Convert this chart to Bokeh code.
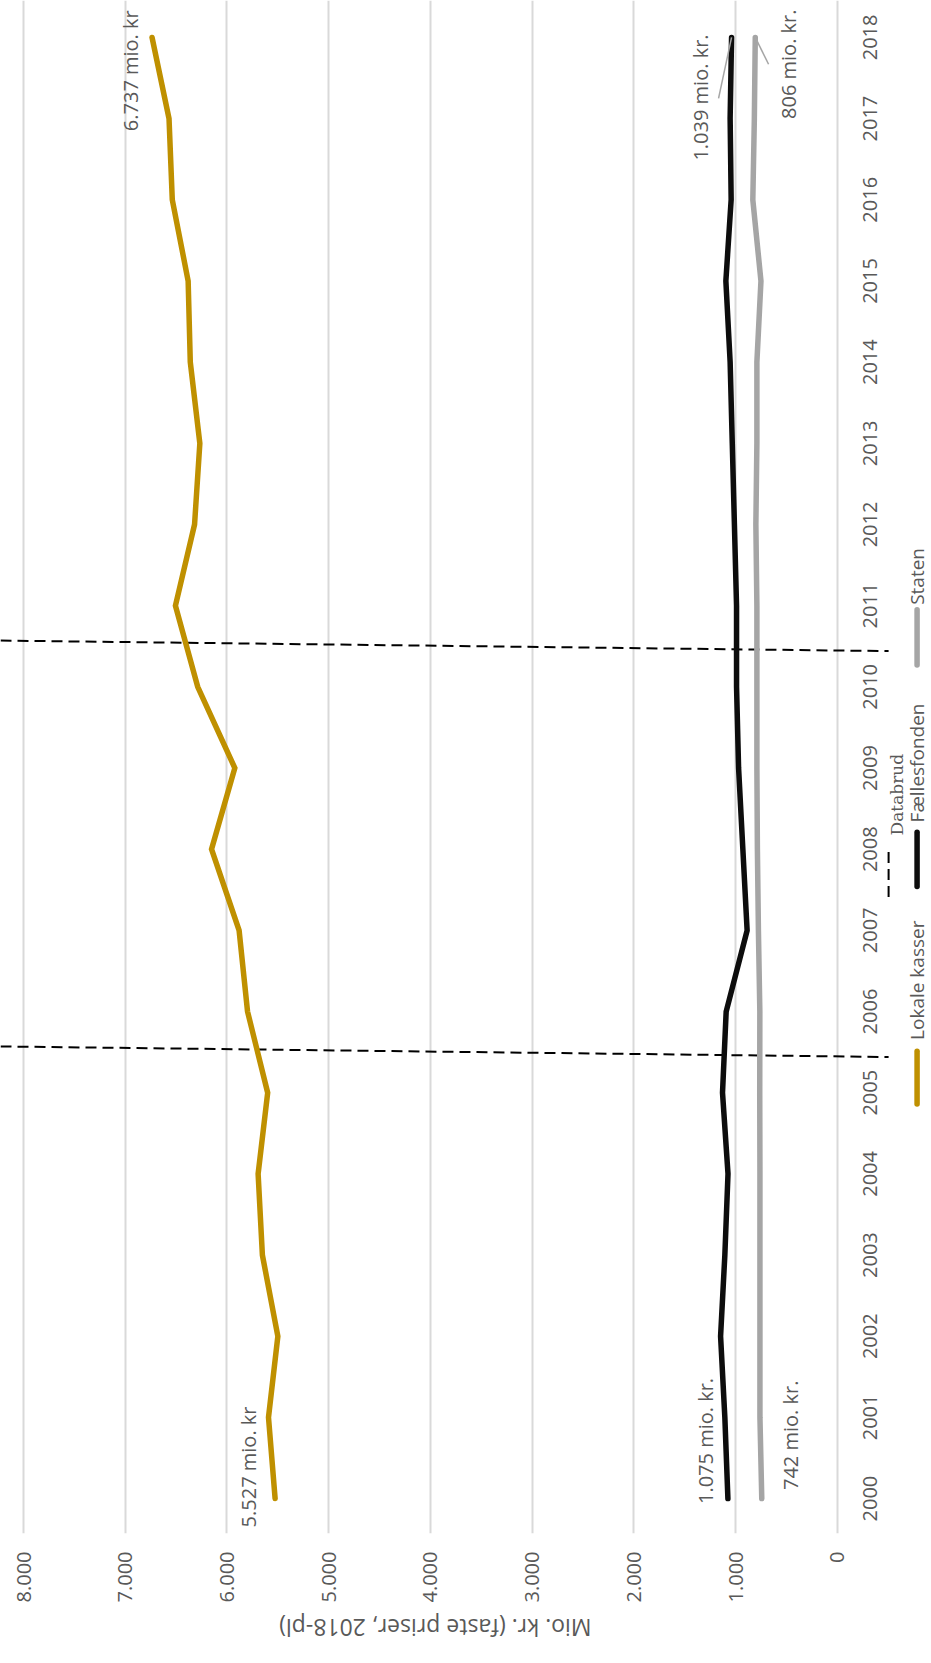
import math
from bokeh.plotting import figure
from bokeh.models import Range1d, FixedTicker, LinearAxis
from bokeh.core.properties import value
from bokeh.embed import file_html
from bokeh.resources import INLINE

# ---------------- data ----------------
years = list(range(2000, 2019))
lokale_kasser = [5527, 5592, 5500, 5652, 5694, 5600, 5798, 5881, 6152, 5923,
                 6288, 6507, 6319, 6267, 6361, 6382, 6538, 6570, 6737]
faellesfonden = [1075, 1105, 1147, 1105, 1074, 1128, 1092, 886, 928, 970,
                 990, 990, 1011, 1032, 1053, 1095, 1043, 1053, 1039]
staten = [742, 760, 760, 760, 760, 762, 761, 775, 785, 790,
          790, 790, 800, 790, 790, 750, 830, 815, 806]
databrud = [2005.5, 2010.5]

value_ticks = [0, 1000, 2000, 3000, 4000, 5000, 6000, 7000, 8000]
value_tick_labels = ["0", "1.000", "2.000", "3.000", "4.000", "5.000", "6.000", "7.000", "8.000"]
year_labels = [str(y) for y in years]

series_names = ["Lokale kasser", "Fællesfonden", "Staten"]
series_colors = ["#BF9000", "#0D0D0D", "#A5A5A5"]

axis_title = "Mio. kr. (faste priser, 2018-pl)"

ann_text = ["5.527 mio. kr", "6.737 mio. kr", "1.075 mio. kr.", "742 mio. kr.",
            "1.039 mio. kr.", "806 mio. kr."]
ann_x = [5788, 6949, 1295, 459, 1344, 479]
ann_y = [2000.39, 2017.59, 2000.71, 2000.78, 2017.26, 2017.67]

lead_x0 = [1039, 806]
lead_y0 = [2018, 2018]
lead_x1 = [1167, 675]
lead_y1 = [2017.25, 2017.67]

GRAY_TXT = "#595959"
FONT = "Open Sans"

p = figure(width=930, height=1662,
           x_range=Range1d(8227, -917), y_range=Range1d(1999.57, 2018.455),
           output_backend="svg", toolbar_location=None,
           y_axis_location=None,
           min_border_left=0, min_border_right=0, min_border_top=0, min_border_bottom=127)
p.outline_line_color = None
p.background_fill_color = "white"
p.border_fill_color = "white"

ticker = FixedTicker(ticks=value_ticks)
ax = p.xaxis[0]
ax.ticker = ticker
ax.major_label_overrides = {t: l for t, l in zip(value_ticks, value_tick_labels)}
ax.major_label_orientation = math.pi / 2
ax.axis_line_color = None
ax.major_tick_line_color = None
ax.minor_tick_line_color = None
ax.major_tick_out = 0
ax.major_tick_in = 0
ax.major_label_standoff = 18
ax.major_label_text_font = FONT
ax.major_label_text_font_size = "20px"
ax.major_label_text_color = GRAY_TXT

# axis title, drawn upside down as the single label of a second, bare axis
title_pos = 2416
tax = LinearAxis(ticker=FixedTicker(ticks=[title_pos]),
                 major_label_overrides={title_pos: axis_title},
                 major_label_orientation=-math.pi,
                 axis_line_color=None, major_tick_line_color=None, minor_tick_line_color=None,
                 major_tick_in=0, major_tick_out=0, major_label_standoff=22,
                 major_label_text_font=FONT, major_label_text_font_size="23px",
                 major_label_text_color=GRAY_TXT)
p.add_layout(tax, "below")

p.xgrid.ticker = ticker
p.xgrid.grid_line_color = "#D9D9D9"
p.xgrid.grid_line_width = 2
p.ygrid.visible = False

for yb in databrud:
    p.segment(x0=[8227], y0=[yb + 0.07], x1=[-505], y1=[yb - 0.06],
              line_color="black", line_width=2, line_dash="11 6")

for vals, col in zip([lokale_kasser, faellesfonden, staten], series_colors):
    p.line(x=vals, y=years, line_color=col, line_width=5.5, line_cap="round", line_join="miter")

p.segment(x0=lead_x0, y0=lead_y0, x1=lead_x1, y1=lead_y1, line_color="#A6A6A6", line_width=1.5)

p.text(x=ann_x, y=ann_y, text=ann_text, angle=math.pi / 2,
       text_align="center", text_baseline="middle",
       text_font=value(FONT), text_font_size="20px", text_color=GRAY_TXT)

p.text(x=[-327] * len(years), y=years, text=year_labels, angle=math.pi / 2,
       text_align="center", text_baseline="middle",
       text_font=value(FONT), text_font_size="20px", text_color=GRAY_TXT)

sw_top = [2005.51, 2008.21, 2010.95]
sw_bot = [2004.86, 2007.54, 2010.27]
txt_start = [2005.65, 2008.33, 2011.01]
p.segment(x0=[-785] * 3, x1=[-785] * 3, y0=sw_bot, y1=sw_top,
          line_color=series_colors, line_width=5.5, line_cap="round")
p.text(x=[-782] * 3, y=txt_start, text=series_names, angle=math.pi / 2,
       text_align="left", text_baseline="middle",
       text_font=value(FONT), text_font_size="19px", text_color=GRAY_TXT)
p.segment(x0=[-505], x1=[-505], y0=[2007.41], y1=[2008.02],
          line_color="black", line_width=2, line_dash="11 6")
p.text(x=[-590], y=[2008.17], text=["Databrud"], angle=math.pi / 2,
       text_align="left", text_baseline="middle",
       text_font=value("DejaVu Serif"), text_font_size="17px", text_color=GRAY_TXT)

open("out.html", "w").write(file_html(p, INLINE))
